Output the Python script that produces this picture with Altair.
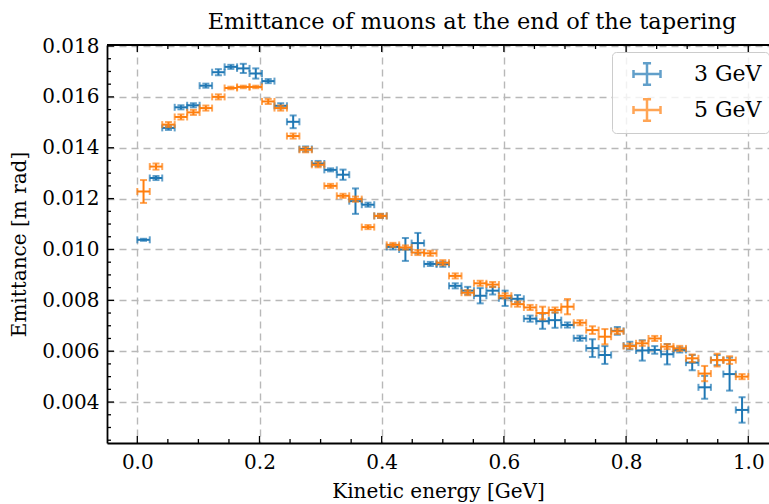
import altair as alt
import pandas as pd

# ---------------- data ----------------
x_centers = [0.0102, 0.0306, 0.0510, 0.0714, 0.0918, 0.1122, 0.1327, 0.1531, 0.1735, 0.1939,
             0.2143, 0.2347, 0.2551, 0.2755, 0.2959, 0.3163, 0.3367, 0.3571, 0.3776, 0.3980,
             0.4184, 0.4388, 0.4592, 0.4796, 0.5000, 0.5204, 0.5408, 0.5612, 0.5816, 0.6020,
             0.6224, 0.6429, 0.6633, 0.6837, 0.7041, 0.7245, 0.7449, 0.7653, 0.7857, 0.8061,
             0.8265, 0.8469, 0.8673, 0.8878, 0.9082, 0.9286, 0.9490, 0.9694, 0.9898]
x_halfwidth = 0.0102

series_names = ["3 GeV", "5 GeV"]
series_colors = ["#1f77b4", "#ff7f0e"]

emit_3 = [0.01038, 0.01281, 0.01478, 0.01559, 0.01567, 0.01644, 0.01697, 0.01718, 0.01712, 0.01692,
          0.01662, 0.01565, 0.01502, 0.01395, 0.01338, 0.01313, 0.01294, 0.01190, 0.01176, 0.01132,
          0.01010, 0.01000, 0.01025, 0.00943, 0.00942, 0.00857, 0.00838, 0.00818, 0.00838, 0.00808,
          0.00806, 0.00728, 0.00718, 0.00722, 0.00703, 0.00651, 0.00612, 0.00585, 0.00680, 0.00622,
          0.00603, 0.00605, 0.00588, 0.00605, 0.00555, 0.00458, 0.00565, 0.00510, 0.00369]
err_3 = [0.00004, 0.00008, 0.00008, 0.00008, 0.00008, 0.00008, 0.00012, 0.00008, 0.00018, 0.00020,
         0.00008, 0.00010, 0.00025, 0.00010, 0.00010, 0.00006, 0.00020, 0.00050, 0.00008, 0.00008,
         0.00010, 0.00045, 0.00040, 0.00008, 0.00010, 0.00010, 0.00015, 0.00030, 0.00015, 0.00030,
         0.00015, 0.00012, 0.00030, 0.00030, 0.00010, 0.00010, 0.00035, 0.00035, 0.00015, 0.00015,
         0.00040, 0.00015, 0.00040, 0.00010, 0.00030, 0.00045, 0.00020, 0.00065, 0.00050]

emit_5 = [0.01228, 0.01326, 0.01491, 0.01521, 0.01539, 0.01556, 0.01600, 0.01635, 0.01639, 0.01639,
          0.01582, 0.01556, 0.01446, 0.01392, 0.01333, 0.01250, 0.01211, 0.01198, 0.01088, 0.01132,
          0.01018, 0.01008, 0.00988, 0.00985, 0.00948, 0.00896, 0.00830, 0.00867, 0.00862, 0.00818,
          0.00785, 0.00772, 0.00750, 0.00762, 0.00775, 0.00712, 0.00683, 0.00657, 0.00678, 0.00620,
          0.00631, 0.00650, 0.00618, 0.00611, 0.00572, 0.00512, 0.00565, 0.00565, 0.00500]
err_5 = [0.00045, 0.00012, 0.00010, 0.00010, 0.00010, 0.00010, 0.00010, 0.00005, 0.00005, 0.00005,
         0.00010, 0.00010, 0.00010, 0.00010, 0.00010, 0.00008, 0.00008, 0.00010, 0.00008, 0.00008,
         0.00008, 0.00008, 0.00010, 0.00010, 0.00010, 0.00010, 0.00010, 0.00010, 0.00010, 0.00010,
         0.00010, 0.00010, 0.00025, 0.00010, 0.00030, 0.00010, 0.00015, 0.00030, 0.00010, 0.00010,
         0.00010, 0.00010, 0.00010, 0.00010, 0.00015, 0.00030, 0.00025, 0.00015, 0.00010]

x_major = [0.0, 0.2, 0.4, 0.6, 0.8, 1.0]
x_minor = [0.05, 0.1, 0.15, 0.25, 0.3, 0.35, 0.45, 0.5, 0.55, 0.65, 0.7, 0.75, 0.85, 0.9, 0.95]
y_major = [0.004, 0.006, 0.008, 0.010, 0.012, 0.014, 0.016, 0.018]
y_minor = [0.0025, 0.003, 0.0035, 0.0045, 0.005, 0.0055, 0.0065, 0.007, 0.0075,
           0.0085, 0.009, 0.0095, 0.0105, 0.011, 0.0115, 0.0125, 0.013, 0.0135,
           0.0145, 0.015, 0.0155, 0.0165, 0.017, 0.0175]

title_text = "Emittance of muons at the end of the tapering"
x_title = "Kinetic energy [GeV]"
y_title = "Emittance [m rad]"

# ---------------- layout ----------------
FONT = "DejaVu Serif"
W, H = 662, 398
XDOM = [-0.0496, 1.0339]
YDOM = [0.00239, 0.01804]

xs = alt.Scale(domain=XDOM, nice=False, zero=False)
ys = alt.Scale(domain=YDOM, nice=False, zero=False)

x_axis = alt.Axis(values=x_major, format=".1f", grid=True, ticks=False, domain=True,
                  title=x_title, labelPadding=9, titlePadding=9)
y_axis = alt.Axis(values=y_major, format=".3f", grid=True, ticks=False, domain=True,
                  title=y_title, labelPadding=8, titlePadding=12)

LEG_PATH = "M-1,0H1M0,-0.8V0.8M-1,-0.3V0.3M1,-0.3V0.3M-0.3,-0.8H0.3M-0.3,0.8H0.3"
legend = alt.Legend(title=None, orient="none", legendX=505, legendY=7,
                    symbolType=LEG_PATH, symbolSize=729, symbolStrokeWidth=2.5,
                    symbolFillColor="transparent", symbolOffset=13,
                    labelFontSize=22, labelFont=FONT, labelColor="black",
                    labelOffset=32, rowPadding=4, padding=7,
                    fillColor="rgba(255,255,255,0.8)", strokeColor="#cccccc",
                    cornerRadius=4, labelLimit=300)
color = alt.Color("series:N", scale=alt.Scale(domain=series_names, range=series_colors),
                  legend=legend)

layers = []
for name, vals, errs in [("3 GeV", emit_3, err_3), ("5 GeV", emit_5, err_5)]:
    df = pd.DataFrame({
        "series": name,
        "x": x_centers,
        "y": vals,
        "ylo": [v - e for v, e in zip(vals, errs)],
        "yhi": [v + e for v, e in zip(vals, errs)],
        "xlo": [c - x_halfwidth for c in x_centers],
        "xhi": [c + x_halfwidth for c in x_centers],
    })
    base = alt.Chart(df)
    vbar = base.mark_rule(strokeWidth=2).encode(
        x=alt.X("x:Q", scale=xs, axis=x_axis),
        y=alt.Y("ylo:Q", scale=ys, axis=y_axis), y2="yhi:Q", color=color)
    hbar = base.mark_rule(strokeWidth=2).encode(
        x=alt.X("xlo:Q", scale=xs, axis=x_axis), x2="xhi:Q",
        y=alt.Y("y:Q", scale=ys, axis=y_axis), color=color)
    caps = []
    for f in ["ylo", "yhi"]:
        caps.append(base.mark_tick(orient="horizontal", thickness=2, size=7).encode(
            x=alt.X("x:Q", scale=xs, axis=x_axis),
            y=alt.Y(f + ":Q", scale=ys, axis=y_axis), color=color))
    for f in ["xlo", "xhi"]:
        caps.append(base.mark_tick(orient="vertical", thickness=2, size=7).encode(
            x=alt.X(f + ":Q", scale=xs, axis=x_axis),
            y=alt.Y("y:Q", scale=ys, axis=y_axis), color=color))
    layers += [vbar, hbar] + caps

# inward tick marks
def xticks(vals, length, top):
    d = pd.DataFrame({"t": vals})
    if top:
        yy = dict(y=alt.value(0), y2=alt.value(length))
    else:
        yy = dict(y=alt.value(H), y2=alt.value(H - length))
    return alt.Chart(d).mark_rule(color="black", strokeWidth=1.3).encode(
        x=alt.X("t:Q", scale=xs, axis=x_axis), **yy)

def yticks(vals, length):
    d = pd.DataFrame({"t": vals})
    return alt.Chart(d).mark_rule(color="black", strokeWidth=1.3).encode(
        y=alt.Y("t:Q", scale=ys, axis=y_axis), x=alt.value(0), x2=alt.value(length))

tick_layers = [xticks(x_major, 7, False), xticks(x_minor, 4, False),
               xticks(x_major, 7, True), xticks(x_minor, 4, True),
               yticks(y_major, 7), yticks(y_minor, 4)]

top_line = alt.Chart(pd.DataFrame({"a": [0]})).mark_rule(color="black", strokeWidth=1.8).encode(
    x=alt.value(0), x2=alt.value(W), y=alt.value(0))

chart = alt.layer(*(tick_layers + layers + [top_line])).properties(
    width=W, height=H,
    title=alt.Title(title_text, fontSize=22.5, font=FONT, fontWeight="normal",
                    anchor="middle", offset=3, dx=34, color="black"),
    padding={"left": 107, "top": 45, "right": 0, "bottom": 61},
    autosize=alt.AutoSizeParams(type="none"),
    background="white",
).configure_view(stroke=None).configure_axis(
    labelFont=FONT, titleFont=FONT, labelFontSize=20, titleFontSize=20,
    labelColor="black", titleColor="black", titleFontWeight="normal",
    domainColor="black", domainWidth=1.8,
    gridColor="#b8b8b8", gridDash=[7, 5], gridWidth=1.4,
)

chart.save("out.html", embed_options={"renderer": "svg", "actions": False})
